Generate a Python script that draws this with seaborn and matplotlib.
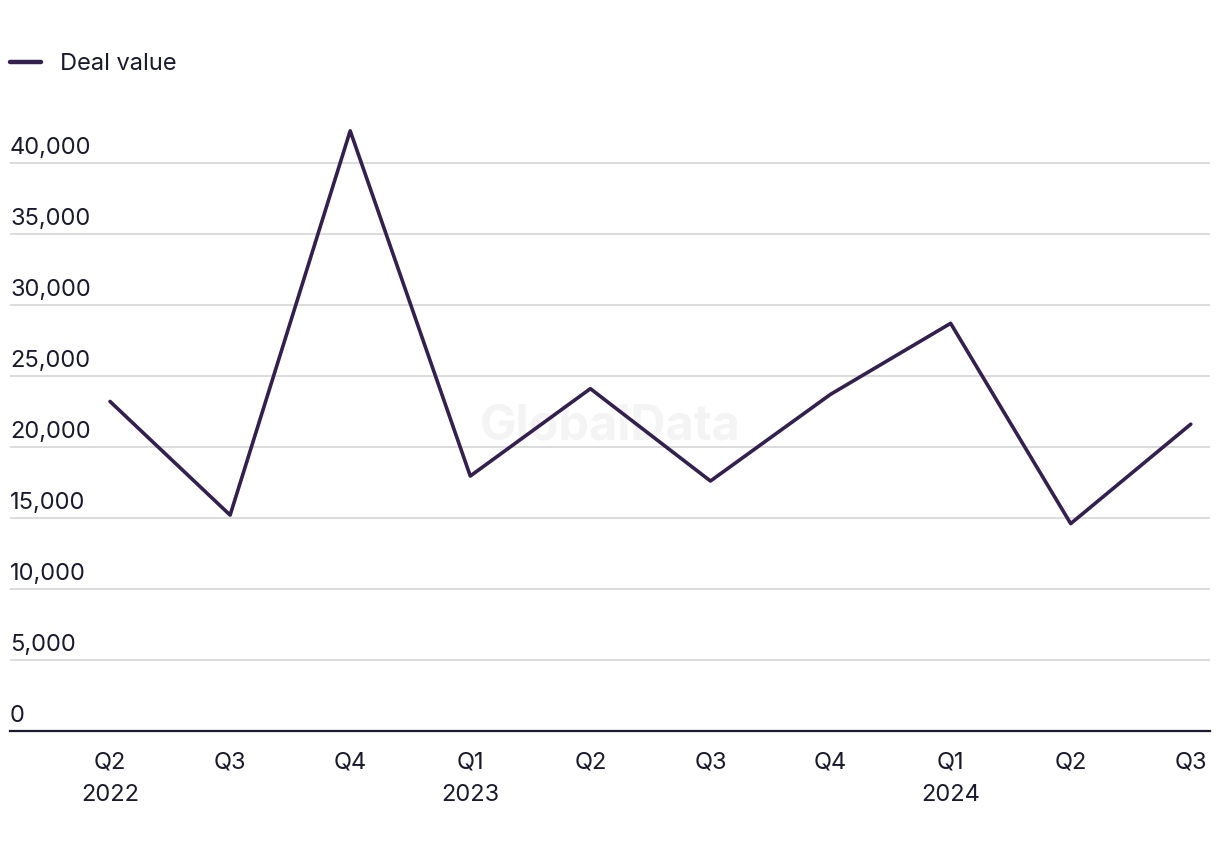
import pandas as pd
import matplotlib.pyplot as plt
import matplotlib.transforms as mtransforms
import seaborn as sns

# Quarterly deal value
quarters = ['Q2\n2022', 'Q3', 'Q4', 'Q1\n2023', 'Q2', 'Q3', 'Q4', 'Q1\n2024', 'Q2', 'Q3']
deal_value = [23200, 15200, 42250, 17950, 24100, 17600, 23700, 28700, 14600, 21600]
y_ticks = [0, 5000, 10000, 15000, 20000, 25000, 30000, 35000, 40000]

data = pd.DataFrame({'pos': range(len(quarters)), 'value': deal_value})

sns.set_theme(style='white')
plt.rcParams['font.family'] = ['Inter', 'DejaVu Sans']

line_color = '#33204f'
text_color = '#1a1a2e'

fig = plt.figure(figsize=(12.2, 8.52), dpi=100)
ax = fig.add_axes([10 / 1220, 1 - 731 / 852, 1200 / 1220, 625 / 852])

sns.lineplot(data=data, x='pos', y='value', ax=ax, color=line_color,
             linewidth=2.6, label='Deal value', zorder=3)

ax.set_xlim(-0.833, 9.16)
ax.set_ylim(0, 44000)
ax.set_yticks(y_ticks)
ax.set_yticklabels([f'{v:,}' for v in y_ticks])
ax.set_xticks(range(len(quarters)))
ax.set_xticklabels(quarters, linespacing=1.6)

ax.grid(axis='y', color='#d9d9d9', linewidth=1.3)
ax.grid(axis='x', visible=False)
for side in ['top', 'right', 'left']:
    ax.spines[side].set_visible(False)
ax.spines['bottom'].set_color(text_color)
ax.spines['bottom'].set_linewidth(1.6)
ax.spines['bottom'].set_zorder(4)

ax.tick_params(axis='y', length=0, pad=0, labelsize=17, labelcolor=text_color)
ax.tick_params(axis='x', length=0, pad=15, labelsize=17, labelcolor=text_color)
offset = mtransforms.ScaledTranslation(0, 3 / 72, fig.dpi_scale_trans)
for lbl in ax.get_yticklabels():
    lbl.set_horizontalalignment('left')
    lbl.set_verticalalignment('bottom')
    lbl.set_transform(lbl.get_transform() + offset)

ax.set_xlabel('')
ax.set_ylabel('')

# watermark
ax.text(0.5, 0.487, 'GlobalData', transform=ax.transAxes, ha='center', va='center',
        fontsize=35, fontweight='bold', color='#f4f4f4', zorder=1)

leg = ax.legend(loc='upper left', frameon=False, fontsize=17, handlelength=1.3,
                handletextpad=0.8, borderaxespad=0, borderpad=0)
leg.set_bbox_to_anchor((10 / 1220, 1 - 53 / 852), transform=fig.transFigure)
for line in leg.get_lines():
    line.set_linewidth(3.2)
for t in leg.get_texts():
    t.set_color(text_color)

fig.savefig('out.png', dpi=100)
